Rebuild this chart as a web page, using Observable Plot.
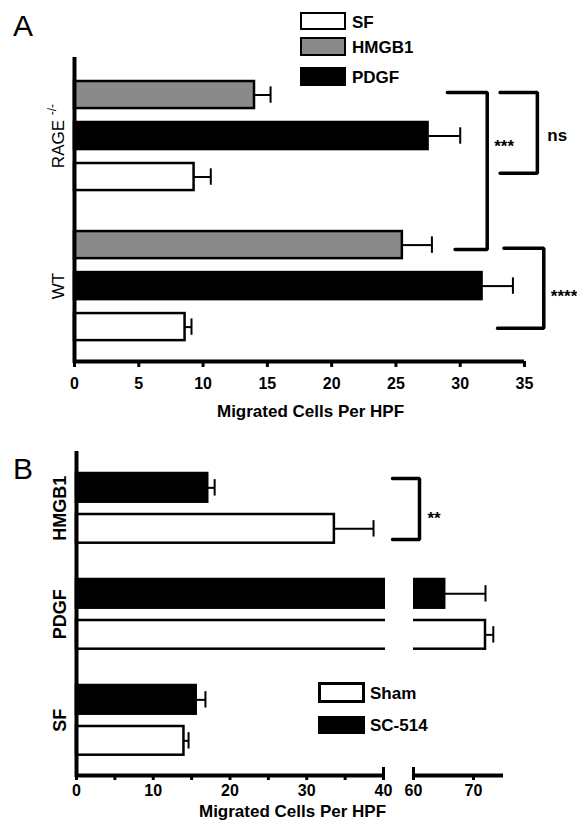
<!DOCTYPE html>
<html><head><meta charset="utf-8">
<script src="https://cdn.jsdelivr.net/npm/d3@7"></script>
<script src="https://cdn.jsdelivr.net/npm/@observablehq/plot@0.6"></script>
<style>
body{margin:0;background:#fff;}
#wrap{position:relative;width:577px;height:825px;overflow:hidden;font-family:"Liberation Sans",Arial,Helvetica,sans-serif;color:#000;}
#wrap svg{position:absolute;left:0;}
.letter{position:absolute;font-size:30px;line-height:30px;}
.sw{position:absolute;box-sizing:border-box;border:2.5px solid #000;}
.lab{position:absolute;font-weight:bold;font-size:17px;line-height:20px;white-space:nowrap;}
</style></head><body><div id="wrap"></div>
<script>
// ---------- Panel A data ----------
const groupsA = ["RAGE -/-", "WT"];
const seriesA = ["HMGB1", "PDGF", "SF"];          // top to bottom inside each group
const legendOrderA = ["SF", "HMGB1", "PDGF"];
const rageMean = [14.0, 27.5, 9.3];
const rageSem  = [1.25, 2.5, 1.3];
const wtMean   = [25.5, 31.7, 8.6];
const wtSem    = [2.3, 2.4, 0.5];
const ticksA   = [0, 5, 10, 15, 20, 25, 30, 35];
const sigA = [
  {label: "***",  top: ["RAGE -/-", "HMGB1"], bottom: ["WT", "HMGB1"],      at: ["RAGE -/-", "PDGF"]},
  {label: "ns",   top: ["RAGE -/-", "HMGB1"], bottom: ["RAGE -/-", "SF"],   at: ["RAGE -/-", "PDGF"]},
  {label: "****", top: ["WT", "HMGB1"],       bottom: ["WT", "SF"],         at: ["WT", "PDGF"]}
];

// ---------- Panel B data ----------
const groupsB = ["HMGB1", "PDGF", "SF"];
const seriesB = ["SC-514", "Sham"];               // top to bottom inside each group
const legendOrderB = ["Sham", "SC-514"];
const sc514Mean = [17.1, 65.2, 15.6];
const sc514Sem  = [0.9, 6.8, 1.2];
const shamMean  = [33.6, 72.0, 14.0];
const shamSem   = [5.1, 1.3, 0.6];
const ticksB      = [0, 10, 20, 30, 40, 60, 70];
const minorTicksB = [5, 15, 25, 35];
const axisPiecesB = [[0, 40], [60, 75]];
const breakB      = [40, 60];
const sigB = [
  {label: "**", top: ["HMGB1", "SC-514"], bottom: ["HMGB1", "Sham"]}
];

const xLabel = "Migrated Cells Per HPF";

// ---------- styles / layout ----------
const FONT = '"Liberation Sans", Arial, Helvetica, sans-serif';
const W = 577;
const fillA = {SF: "#ffffff", HMGB1: "#8a8a8a", PDGF: "#000000"};
const fillB = {"Sham": "#ffffff", "SC-514": "#000000"};
const STEP = 41;

// Panel A layout
const hA = 440, topA = 59, axisA = 361;
const GAP_A = 3.66, BAR_A = 0.66, CAP = 0.2;
const y0A = -(81 - topA) / STEP;
const y1A = y0A + (axisA - topA) / STEP;
const posA = (g, s) => groupsA.indexOf(g) * GAP_A + seriesA.indexOf(s);
const rowsA = groupsA.flatMap((g, gi) => seriesA.map((s, si) => ({
  group: g, series: s, fill: fillA[s],
  mean: (gi === 0 ? rageMean : wtMean)[si],
  sem: (gi === 0 ? rageSem : wtSem)[si],
  pos: posA(g, s)
})));
const bracketLayoutA = [
  {x: 32.1, armTop: 29.0, armBottom: 29.6, topOff: 0.27, bottomOff: 0.44, dx: 7},
  {x: 36.0, armTop: 33.1, armBottom: 33.1, topOff: 0.27, bottomOff: 0.24, dx: 10},
  {x: 36.5, armTop: 33.4, armBottom: 32.9, topOff: 0.41, bottomOff: 0.36, dx: 7}
];
const bracketPtsA = sigA.flatMap((b, i) => {
  const L = bracketLayoutA[i];
  const yt = posA(...b.top) + L.topOff, yb = posA(...b.bottom) + L.bottomOff;
  return [[L.armTop, yt], [L.x, yt], [L.x, yb], [L.armBottom, yb]].map(([x, y]) => ({id: i, x, y}));
});
const sigLabelsA = sigA.map((b, i) => ({
  label: b.label, x: bracketLayoutA[i].x, y: posA(...b.at) + BAR_A / 2, dx: bracketLayoutA[i].dx
}));

const plotA = Plot.plot({
  width: W, height: hA,
  marginLeft: 74, marginRight: 53, marginTop: topA, marginBottom: hA - axisA,
  x: {domain: [0, 35], label: null},
  y: {domain: [y0A, y1A], reverse: true, axis: null},
  color: {type: "identity"},
  style: {fontFamily: FONT, color: "#000", background: "transparent", overflow: "hidden"},
  marks: [
    Plot.ruleY(rowsA, {y: d => d.pos + BAR_A / 2, x1: "mean", x2: d => d.mean + d.sem, strokeWidth: 2}),
    Plot.ruleX(rowsA, {x: d => d.mean + d.sem, y1: d => d.pos + BAR_A / 2 - CAP, y2: d => d.pos + BAR_A / 2 + CAP, strokeWidth: 2}),
    Plot.rectX(rowsA, {x1: 0, x2: "mean", y1: "pos", y2: d => d.pos + BAR_A, fill: "fill", stroke: "#000", strokeWidth: 2.5}),
    Plot.ruleX([0], {strokeWidth: 4, strokeLinecap: "square"}),
    Plot.ruleY([y1A], {x1: 0, x2: 35, strokeWidth: 4}),
    Plot.axisX(ticksA, {tickSize: 6, tickPadding: 10, strokeWidth: 3, fontSize: 16, fontWeight: "bold", label: null}),
    Plot.text([xLabel], {text: d => d, frameAnchor: "bottom", lineAnchor: "middle", textAnchor: "middle", dx: 11, dy: 50, fontSize: 17, fontWeight: "bold"}),
    Plot.text(groupsA, {text: d => d, y: g => posA(g, seriesA[1]) + BAR_A / 2, frameAnchor: "left", textAnchor: "middle", lineAnchor: "middle", dx: -16, rotate: -90, fontSize: 17}),
    Plot.line(bracketPtsA, {x: "x", y: "y", z: "id", strokeWidth: 3.5, strokeLinejoin: "miter"}),
    ...sigLabelsA.map(l => Plot.text([l], {x: "x", y: "y", text: "label", dx: l.dx, textAnchor: "start", lineAnchor: "middle", fontSize: 17, fontWeight: "bold"}))
  ]
});

// Panel B layout
const offB = 440, hB = 385, topB = 13, axisB = 335;
const GAP_B = 106 / STEP, BAR_B = 0.7;
const y0B = -20 / STEP;
const y1B = y0B + (axisB - topB) / STEP;
const BREAK_UP = 8 / STEP;
const posB = (g, s) => groupsB.indexOf(g) * GAP_B + seriesB.indexOf(s);
const rowsB = groupsB.flatMap((g, gi) => seriesB.map((s, si) => ({
  group: g, series: s, fill: fillB[s],
  mean: (si === 0 ? sc514Mean : shamMean)[gi],
  sem: (si === 0 ? sc514Sem : shamSem)[gi],
  pos: posB(g, s)
})));
const bracketLayoutB = [{x: 61.0, armTop: 46, armBottom: 46, topOff: 0.12, bottomOff: 0.61, dx: 8}];
const bracketPtsB = sigB.flatMap((b, i) => {
  const L = bracketLayoutB[i];
  const yt = posB(...b.top) + L.topOff, yb = posB(...b.bottom) + L.bottomOff;
  return [[L.armTop, yt], [L.x, yt], [L.x, yb], [L.armBottom, yb]].map(([x, y]) => ({id: i, x, y}));
});
const sigLabelsB = sigB.map((b, i) => ({
  label: b.label, x: bracketLayoutB[i].x,
  y: (posB(...b.top) + posB(...b.bottom) + BAR_B) / 2, dx: bracketLayoutB[i].dx
}));
const gapRow = {x1: breakB[0], x2: breakB[1],
  y1: posB("PDGF", seriesB[0]) - 0.15, y2: posB("PDGF", seriesB[1]) + BAR_B + 0.15};

const plotB = Plot.plot({
  width: W, height: hB,
  marginLeft: 76, marginRight: 74, marginTop: topB, marginBottom: hB - axisB,
  x: {type: "linear", domain: [0, 40, 60, 75], range: [76, 383, 413, 503], label: null},
  y: {domain: [y0B, y1B], reverse: true, axis: null},
  color: {type: "identity"},
  style: {fontFamily: FONT, color: "#000", background: "transparent", overflow: "hidden"},
  marks: [
    Plot.ruleY(rowsB, {y: d => d.pos + BAR_B / 2, x1: "mean", x2: d => d.mean + d.sem, strokeWidth: 2}),
    Plot.ruleX(rowsB, {x: d => d.mean + d.sem, y1: d => d.pos + BAR_B / 2 - CAP, y2: d => d.pos + BAR_B / 2 + CAP, strokeWidth: 2}),
    Plot.rectX(rowsB, {x1: 0, x2: "mean", y1: "pos", y2: d => d.pos + BAR_B, fill: "fill", stroke: "#000", strokeWidth: 2.5}),
    Plot.rect([gapRow], {x1: "x1", x2: "x2", y1: "y1", y2: "y2", fill: "#fff", insetLeft: 2}),
    Plot.ruleX([0], {strokeWidth: 4, strokeLinecap: "square"}),
    Plot.ruleY(axisPiecesB, {x1: d => d[0], x2: d => d[1], y: y1B, strokeWidth: 4}),
    Plot.axisX(ticksB, {tickSize: 5, tickPadding: 4, strokeWidth: 3, fontSize: 16, fontWeight: "bold", label: null}),
    Plot.axisX(minorTicksB, {tickSize: 5, strokeWidth: 3, tickFormat: () => "", label: null}),
    Plot.ruleX(breakB, {y1: y1B - BREAK_UP, y2: y1B, strokeWidth: 3}),
    Plot.text([xLabel], {text: d => d, frameAnchor: "bottom", lineAnchor: "middle", textAnchor: "middle", dx: 2.5, dy: 36, fontSize: 17, fontWeight: "bold"}),
    Plot.text(groupsB, {text: d => d, y: g => (posB(g, seriesB[0]) + posB(g, seriesB[1]) + BAR_B) / 2, frameAnchor: "left", textAnchor: "middle", lineAnchor: "middle", dx: -16, rotate: -90, fontSize: 18, fontWeight: "bold"}),
    Plot.line(bracketPtsB, {x: "x", y: "y", z: "id", strokeWidth: 3.5, strokeLinejoin: "miter"}),
    ...sigLabelsB.map(l => Plot.text([l], {x: "x", y: "y", text: "label", dx: l.dx, textAnchor: "start", lineAnchor: "middle", fontSize: 17, fontWeight: "bold"}))
  ]
});

const wrap = document.getElementById("wrap");
plotA.style.top = "0px";
plotB.style.top = offB + "px";
wrap.appendChild(plotA);
wrap.appendChild(plotB);

// superscript for RAGE -/-, and lower the asterisks (they sit high in the glyph box)
[plotA, plotB].forEach(p => d3.select(p).selectAll("text").each(function () {
  const t = d3.select(this);
  if (this.textContent === "RAGE -/-") {
    t.text("RAGE ");
    t.append("tspan").attr("font-size", 12).attr("dy", -8).text("-/-");
  } else if (/^\*+$/.test(this.textContent)) {
    t.attr("dy", "0.6em");
  }
}));

// panel letters
const wr = d3.select(wrap);
wr.append("div").attr("class", "letter").style("left", "13px").style("top", "11px").text("A");
wr.append("div").attr("class", "letter").style("left", "13px").style("top", "454px").text("B");

// legends
const legendBoxesA = [{top: 12, h: 18}, {top: 37, h: 19}, {top: 67, h: 19}];
legendOrderA.forEach((s, i) => {
  const b = legendBoxesA[i];
  wr.append("div").attr("class", "sw")
    .style("left", "300px").style("top", b.top + "px").style("width", "46px").style("height", b.h + "px")
    .style("background", fillA[s]);
  wr.append("div").attr("class", "lab")
    .style("left", "352px").style("top", (b.top + b.h / 2 - 10 + 1.5) + "px").text(s);
});
const legendBoxesB = [{top: 682, h: 21, bw: 3}, {top: 716, h: 18, bw: 2.5}];
legendOrderB.forEach((s, i) => {
  const b = legendBoxesB[i];
  wr.append("div").attr("class", "sw")
    .style("left", "318px").style("top", b.top + "px").style("width", "47px").style("height", b.h + "px")
    .style("border-width", b.bw + "px").style("background", fillB[s]);
  wr.append("div").attr("class", "lab")
    .style("left", "370px").style("top", (b.top + b.h / 2 - 10 + 1) + "px").text(s);
});
</script></body></html>
